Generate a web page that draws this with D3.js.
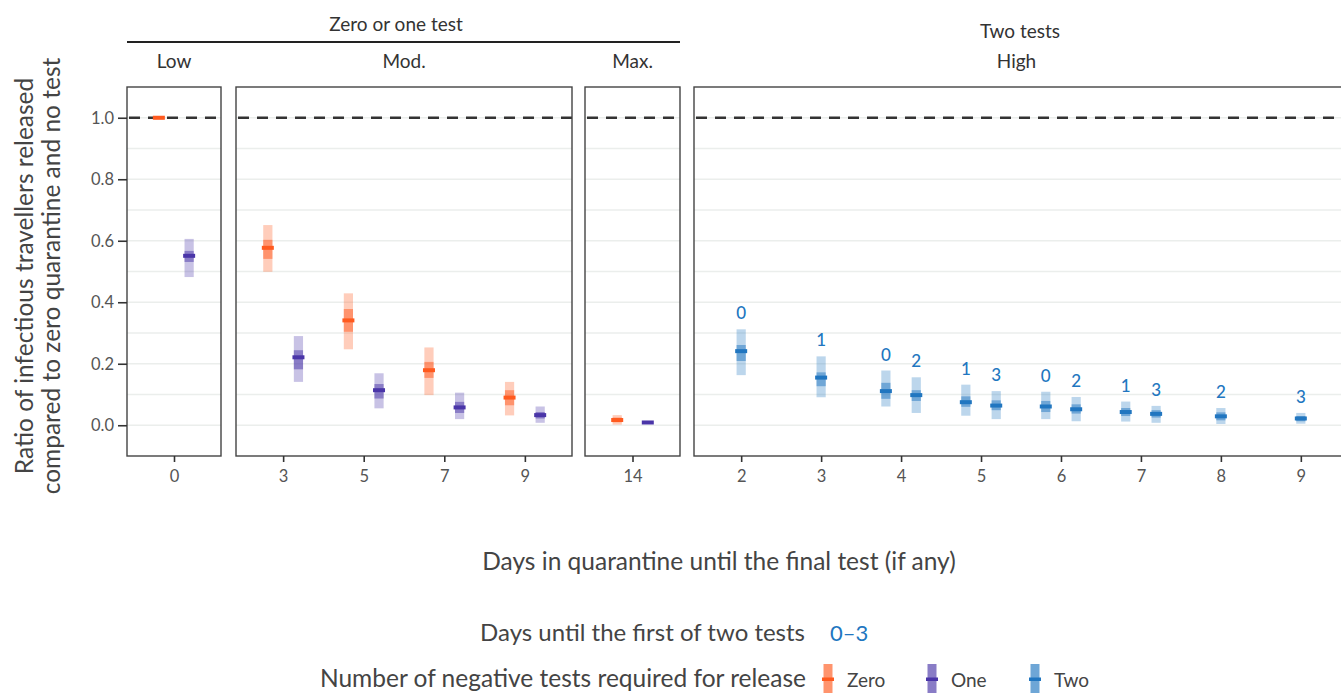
<!DOCTYPE html>
<html>
<head>
<meta charset="utf-8">
<script src="https://cdn.jsdelivr.net/npm/d3@7"></script>
<style>
  body { margin: 0; background: #fff; }
  text { font-family: Lato, "Open Sans", sans-serif; fill: #333; }
  .tick text { fill: #555; }
</style>
</head>
<body>
<div id="chart"></div>
<script>
// zero / one test strategies (days in quarantine, no second test)
const zeroDays = [0, 3, 5, 7, 9, 14]
const zeroMean = [1.0, 0.577, 0.341, 0.179, 0.090, 0.017]
const zeroLo50 = [1.0, 0.541, 0.304, 0.154, 0.065, 0.010]
const zeroHi50 = [1.0, 0.603, 0.378, 0.206, 0.114, 0.025]
const zeroLo95 = [0.997, 0.499, 0.247, 0.098, 0.032, 0.002]
const zeroHi95 = [1.0, 0.651, 0.429, 0.253, 0.141, 0.033]

const oneDays = [0, 3, 5, 7, 9, 14]
const oneMean = [0.551, 0.221, 0.114, 0.058, 0.033, 0.009]
const oneLo50 = [0.531, 0.182, 0.087, 0.040, 0.022, 0.006]
const oneHi50 = [0.567, 0.244, 0.134, 0.076, 0.043, 0.012]
const oneLo95 = [0.482, 0.141, 0.055, 0.020, 0.008, 0.004]
const oneHi95 = [0.606, 0.290, 0.169, 0.106, 0.061, 0.014]

const stripOfDay = { 0: 'Low', 3: 'Mod.', 5: 'Mod.', 7: 'Mod.', 9: 'Mod.', 14: 'Max.' }

// two test strategies
const twoDays  = [2, 3, 4, 4, 5, 5, 6, 6, 7, 7, 8, 9]
const twoFirst = [0, 1, 0, 2, 1, 3, 0, 2, 1, 3, 2, 3]
const twoMean  = [0.241, 0.155, 0.111, 0.098, 0.075, 0.064, 0.061, 0.052, 0.043, 0.037, 0.029, 0.022]
const twoLo50  = [0.209, 0.127, 0.086, 0.079, 0.060, 0.049, 0.043, 0.038, 0.030, 0.025, 0.016, 0.013]
const twoHi50  = [0.261, 0.172, 0.138, 0.114, 0.094, 0.081, 0.079, 0.068, 0.056, 0.049, 0.042, 0.030]
const twoLo95  = [0.163, 0.091, 0.061, 0.040, 0.031, 0.020, 0.020, 0.013, 0.012, 0.008, 0.004, 0.005]
const twoHi95  = [0.312, 0.224, 0.178, 0.156, 0.132, 0.111, 0.109, 0.092, 0.077, 0.063, 0.056, 0.040]

const yTicks = [0, 0.2, 0.4, 0.6, 0.8, 1.0]
const yGrid = d3.range(0, 11).map(i => i / 10)

const colors = { Zero: '#ff5a1f', One: '#4a35a8', Two: '#2176c0' }

const width = 1341
const height = 693
const plotTop = 87
const plotBottom = 456

const panels = [
  { name: 'Low', x0: 127, x1: 221, ticks: [0], pad: 1.18, dodge: 0.38 },
  { name: 'Mod.', x0: 236, x1: 572, ticks: [3, 5, 7, 9], pad: 1.17, dodge: 0.38 },
  { name: 'Max.', x0: 585, x1: 680, ticks: [14], pad: 1.18, dodge: 0.38 },
  { name: 'High', x0: 694, x1: 1348, ticks: [2, 3, 4, 5, 6, 7, 8, 9], pad: 0.59, dodge: 0.19 }
]

const rows = []
zeroDays.forEach((d, i) => rows.push({ panel: stripOfDay[d], day: d, off: -1, group: 'Zero',
  mean: zeroMean[i], lo50: zeroLo50[i], hi50: zeroHi50[i], lo95: zeroLo95[i], hi95: zeroHi95[i] }))
oneDays.forEach((d, i) => rows.push({ panel: stripOfDay[d], day: d, off: 1, group: 'One',
  mean: oneMean[i], lo50: oneLo50[i], hi50: oneHi50[i], lo95: oneLo95[i], hi95: oneHi95[i] }))
twoDays.forEach((d, i) => {
  const firsts = twoFirst.filter((f, j) => twoDays[j] === d)
  const off = firsts.length === 1 ? 0 : (twoFirst[i] === d3.min(firsts) ? -1 : 1)
  rows.push({ panel: 'High', day: d, off, group: 'Two', first: twoFirst[i],
    mean: twoMean[i], lo50: twoLo50[i], hi50: twoHi50[i], lo95: twoLo95[i], hi95: twoHi95[i] })
})

const svg = d3.select('#chart').append('svg')
  .attr('width', width)
  .attr('height', height)

const y = d3.scaleLinear().domain([-0.1, 1.1]).range([plotBottom, plotTop])

panels.forEach(p => {
  p.x = d3.scaleLinear()
    .domain([d3.min(p.ticks) - p.pad, d3.max(p.ticks) + p.pad])
    .range([p.x0, p.x1])

  const g = svg.append('g')

  // grid
  g.selectAll('line.grid').data(yGrid).enter().append('line')
    .attr('x1', p.x0).attr('x2', p.x1)
    .attr('y1', d => y(d)).attr('y2', d => y(d))
    .attr('stroke', '#ebeeec').attr('stroke-width', 1.3)

  // reference line
  g.append('line')
    .attr('x1', p.x0 + 2).attr('x2', p.x1)
    .attr('y1', y(1)).attr('y2', y(1))
    .attr('stroke', '#333').attr('stroke-width', 2.6)
    .attr('stroke-dasharray', '11,8')

  const data = rows.filter(r => r.panel === p.name)
  const cx = d => p.x(d.day + d.off * p.dodge)

  const marks = g.selectAll('g.mark').data(data).enter().append('g')
  marks.append('rect')
    .attr('x', d => cx(d) - 4.6).attr('width', 9.2)
    .attr('y', d => y(d.hi95)).attr('height', d => Math.max(2, y(d.lo95) - y(d.hi95)))
    .attr('fill', d => colors[d.group]).attr('opacity', 0.3)
  marks.append('rect')
    .attr('x', d => cx(d) - 4.6).attr('width', 9.2)
    .attr('y', d => y(d.hi50)).attr('height', d => y(d.lo50) - y(d.hi50))
    .attr('fill', d => colors[d.group]).attr('opacity', 0.5)
  marks.append('rect')
    .attr('x', d => cx(d) - 6).attr('width', 12)
    .attr('y', d => y(d.mean) - 2).attr('height', 4)
    .attr('fill', d => colors[d.group])

  // labels for two-test strategies
  g.selectAll('text.lab').data(data.filter(d => d.first !== undefined)).enter().append('text')
    .attr('x', d => cx(d))
    .attr('y', d => y(d.hi95) - 10)
    .attr('text-anchor', 'middle')
    .style('font-size', '17px')
    .style('font-weight', 500)
    .style('fill', colors.Two)
    .text(d => d.first)

  // frame
  g.append('rect')
    .attr('x', p.x0).attr('y', plotTop)
    .attr('width', p.x1 - p.x0).attr('height', plotBottom - plotTop)
    .attr('fill', 'none').attr('stroke', '#444').attr('stroke-width', 1.4)

  // x axis
  g.append('g')
    .attr('transform', `translate(0,${plotBottom})`)
    .call(d3.axisBottom(p.x).tickValues(p.ticks).tickSize(6).tickPadding(8).tickFormat(d3.format('d')))
    .call(a => a.select('.domain').remove())
    .call(a => a.selectAll('.tick line').attr('stroke', '#333').attr('stroke-width', 1.6))
    .call(a => a.selectAll('.tick text').style('font-size', '16.5px'))

  // strip label
  svg.append('text')
    .attr('x', (p.x0 + Math.min(p.x1, width)) / 2 + (p.name === 'High' ? -1 : 0))
    .attr('y', 68)
    .attr('text-anchor', 'middle')
    .style('font-size', '19px')
    .text(p.name)
})

// y axis
svg.append('g')
  .attr('transform', `translate(${panels[0].x0},0)`)
  .call(d3.axisLeft(y).tickValues(yTicks).tickSize(9).tickPadding(4).tickFormat(d3.format('.1f')))
  .call(a => a.select('.domain').remove())
  .call(a => a.selectAll('.tick line').attr('stroke', '#333').attr('stroke-width', 1.6))
  .call(a => a.selectAll('.tick text').style('font-size', '16.5px'))

// group headers
svg.append('text').attr('x', 396).attr('y', 31).attr('text-anchor', 'middle')
  .style('font-size', '19px').text('Zero or one test')
svg.append('line').attr('x1', panels[0].x0).attr('x2', panels[2].x1)
  .attr('y1', 42).attr('y2', 42).attr('stroke', '#222').attr('stroke-width', 1.8)
svg.append('text').attr('x', 1020).attr('y', 38).attr('text-anchor', 'middle')
  .style('font-size', '19px').text('Two tests')

// axis titles
const yTitle = svg.append('text')
  .attr('transform', 'translate(0,276) rotate(-90)')
  .attr('text-anchor', 'middle')
  .style('font-size', '24.5px')
  .style('fill', '#444')
yTitle.append('tspan').attr('x', 0).attr('y', 33).text('Ratio of infectious travellers released')
yTitle.append('tspan').attr('x', 0).attr('y', 60).text('compared to zero quarantine and no test')

svg.append('text').attr('x', 719).attr('y', 570).attr('text-anchor', 'middle')
  .style('font-size', '24.5px').style('fill', '#444')
  .text('Days in quarantine until the final test (if any)')

// legends
svg.append('text').attr('x', 805).attr('y', 641).attr('text-anchor', 'end')
  .style('font-size', '24px').style('fill', '#444').text('Days until the first of two tests')
svg.append('text').attr('x', 830).attr('y', 641)
  .style('font-size', '22px').style('fill', colors.Two).text('0–3')

svg.append('text').attr('x', 806).attr('y', 687).attr('text-anchor', 'end')
  .style('font-size', '24.5px').style('fill', '#444').text('Number of negative tests required for release')

const legendKeys = [
  { group: 'Zero', x: 828 },
  { group: 'One', x: 932 },
  { group: 'Two', x: 1035 }
]
const keys = svg.selectAll('g.key').data(legendKeys).enter().append('g')
keys.append('rect')
  .attr('x', d => d.x - 4.5).attr('width', 9)
  .attr('y', 664).attr('height', 30)
  .attr('fill', d => colors[d.group]).attr('opacity', 0.65)
keys.append('rect')
  .attr('x', d => d.x - 6).attr('width', 12)
  .attr('y', 677.5).attr('height', 3.5)
  .attr('fill', d => colors[d.group])
keys.append('text')
  .attr('x', d => d.x + 19).attr('y', 687)
  .style('font-size', '19px').style('fill', '#444')
  .text(d => d.group)
</script>
</body>
</html>
